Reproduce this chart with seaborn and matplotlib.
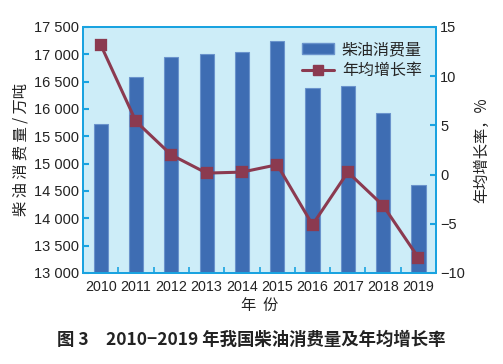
import matplotlib
matplotlib.use("Agg")
import matplotlib.pyplot as plt
import matplotlib.ticker as mticker
from matplotlib.lines import Line2D
from matplotlib.patches import Patch
import seaborn as sns
import pandas as pd

years = ["2010", "2011", "2012", "2013", "2014", "2015", "2016", "2017", "2018", "2019"]
consumption = [15720, 16580, 16950, 17010, 17050, 17250, 16380, 16420, 15920, 14610]
growth = [13.2, 5.4, 2.0, 0.15, 0.25, 1.0, -5.1, 0.25, -3.15, -8.45]

sns.set_theme(style="white")
plt.rcParams['font.family'] = ['Liberation Sans', 'DejaVu Sans', 'Noto Sans CJK SC']
cjk = ['Noto Sans CJK SC', 'DejaVu Sans']

BLUE_SPINE = "#1AA3E0"
BAR = "#3E6DB3"
LINE = "#8B3A50"
BG = "#CDEDF8"
TXT = "#222222"

df = pd.DataFrame({"year": years, "consumption": consumption, "growth": growth})

fig = plt.figure(figsize=(5.03, 3.64), dpi=100)
ax = fig.add_axes([0.165, 0.25, 0.702, 0.676])
ax.set_facecolor(BG)

sns.barplot(data=df, x="year", y="consumption", color=BAR, width=0.4,
            edgecolor="#6A93CC", linewidth=0.8, saturation=1, ax=ax)
ax.set_ylim(13000, 17500)
ax.set_xlim(-0.5, 9.5)
ax.yaxis.set_major_locator(mticker.MultipleLocator(500))
ax.yaxis.set_major_formatter(mticker.FuncFormatter(lambda v, p: f"{int(v):,}".replace(",", " ")))

ax2 = ax.twinx()
sns.pointplot(data=df, x="year", y="growth", color=LINE, marker="s", markersize=7.5,
              linewidth=2.2, ax=ax2)
ax2.set_ylim(-10, 15)
ax2.set_xlim(-0.5, 9.5)
ax2.yaxis.set_major_locator(mticker.MultipleLocator(5))
ax2.yaxis.set_major_formatter(mticker.FuncFormatter(lambda v, p: f"{int(v)}".replace("-", "\u2212")))

for a in (ax, ax2):
    for s in a.spines.values():
        s.set_color(BLUE_SPINE)
        s.set_linewidth(1.4)

ax.tick_params(axis="y", direction="in", length=4, width=1.5, color=BLUE_SPINE,
               labelsize=10.5, labelcolor=TXT, left=True, pad=3)
ax2.tick_params(axis="y", direction="in", length=4, width=1.5, color=BLUE_SPINE,
                labelsize=10.5, labelcolor=TXT, right=True, pad=3)
ax.set_xticks(range(len(years)))
ax.set_xticklabels(years)
ax.xaxis.set_minor_locator(mticker.FixedLocator([i + 0.5 for i in range(-1, 10)]))
ax.tick_params(axis="x", which="major", length=0, labelsize=10.3, labelcolor=TXT, pad=5)
ax.tick_params(axis="x", which="minor", direction="in", length=4, width=1.2,
               color=BLUE_SPINE, bottom=True)
ax2.tick_params(axis="x", which="both", length=0)

ax.set_xlabel("年  份", family=cjk, fontsize=11, color=TXT, labelpad=2)
ax.set_ylabel("柴 油 消 费 量 / 万吨", family=cjk, fontsize=11, color=TXT, labelpad=3)
ax2.set_ylabel("年均增长率，%", family=cjk, fontsize=11, color=TXT, labelpad=6)

handles = [Patch(facecolor=BAR, edgecolor="#6A93CC"),
           Line2D([0], [0], color=LINE, lw=2.2, marker="s", markersize=7.5)]
leg = ax2.legend(handles, ["柴油消费量", "年均增长率"], loc="upper right",
                 frameon=False, prop={"family": cjk, "size": 11.5},
                 bbox_to_anchor=(1.0, 1.0), handlelength=2.0, handletextpad=0.5,
                 labelspacing=0.25)

fig.text(0.5, 0.065, "图 3　2010−2019 年我国柴油消费量及年均增长率", family=cjk,
         fontsize=12.5, fontweight="bold", ha="center", va="center", color=TXT)

fig.savefig("out.png", dpi=100, facecolor="white")
